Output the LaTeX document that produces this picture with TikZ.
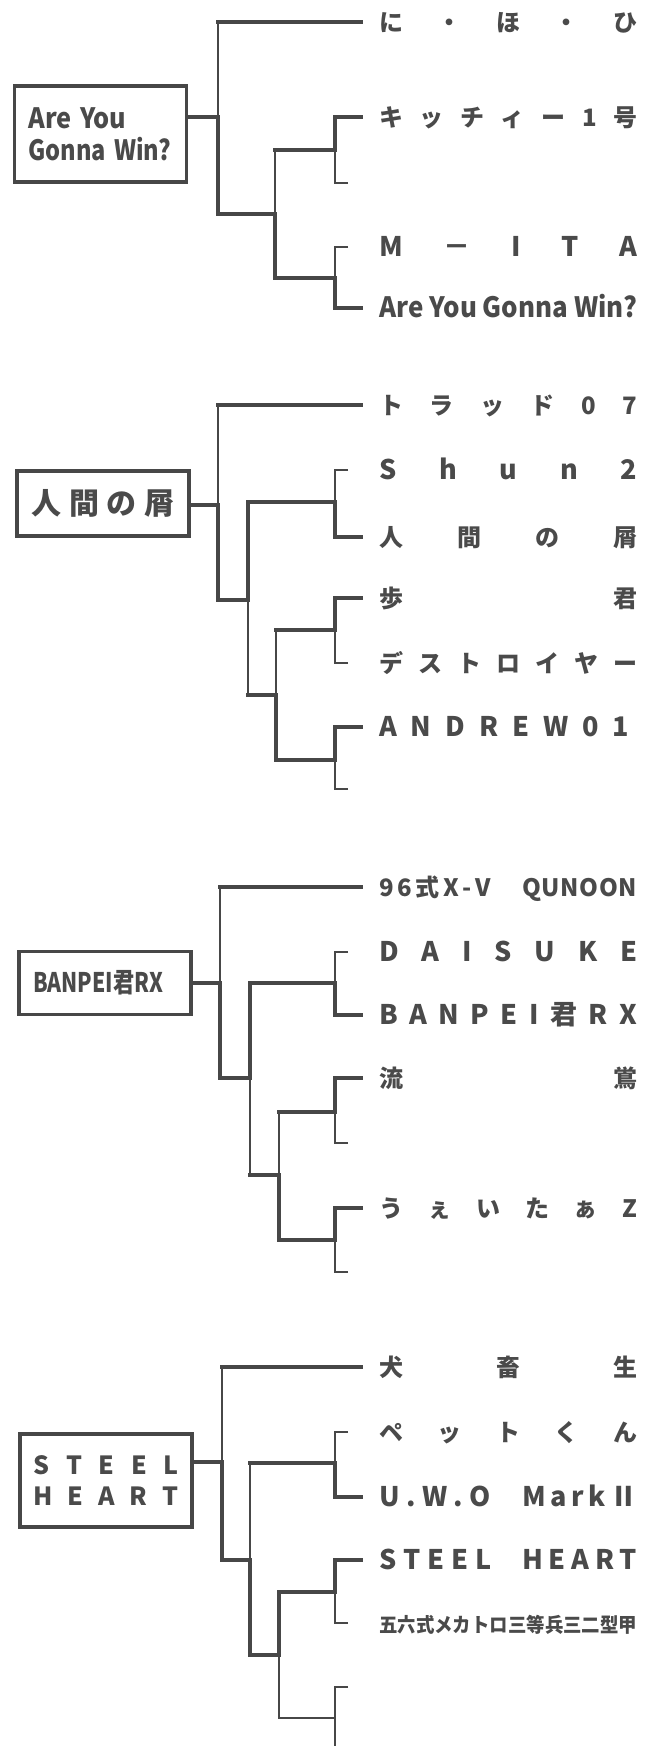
\documentclass[tikz,border=0pt]{standalone}
\usepackage{fontspec}
\setmainfont{Noto Sans CJK JP}
\usepackage{graphicx}
\usepackage{xcolor}
\definecolor{linegray}{HTML}{474747}
\definecolor{textgray}{HTML}{4a4a4a}
\newlength{\labw}
\setlength{\labw}{258pt}
\newcommand{\spread}[2][\labw]{\makebox[#1][s]{\spaceskip=0pt plus 1fil\xspaceskip=\spaceskip\relax #2}}
\newcommand{\spreadpair}[2]{\makebox[\labw]{\spread[112pt]{#1}\hfill\spread[115pt]{#2}}}
\newcommand{\squeeze}[2][\labw]{\resizebox{#1}{\height}{#2}}

\begin{document}
\begin{tikzpicture}[x=1pt, y=-1pt,
    win/.style={draw=linegray, line width=3.4pt, line cap=rect},
    lose/.style={draw=linegray, line width=1.2pt},
    seedbox/.style={draw=linegray, line width=3.4pt, text=textgray, minimum width=172pt, inner sep=0pt},
    entry/.style={anchor=west, inner sep=0pt, text height=18pt, text depth=0pt, text=textgray, font=\fontsize{24}{28}\selectfont\bfseries},
    latin/.style={entry, font=\fontsize{27}{28}\selectfont\bfseries}]
  \useasboundingbox (0,0) rectangle (657,1746);

  % Block 1 -- Are You Gonna Win?
  \node[seedbox, minimum height=96pt, text width=144pt, inner xsep=14pt, align=left, font=\fontsize{28}{32}\selectfont\bfseries] (box1) at (100.5,134) {\squeeze[98pt]{Are You}\\\squeeze[143pt]{Gonna Win?}};
  \node[entry] (nihohi) at (379,22) {\spread{に ・ ほ ・ ひ}};
  \node[entry] (kitty) at (379,117) {\spread{キ ッ チ ィ ー 1 号}};
  \node[latin] (mita) at (379,247) {\spread{M － I T A}};
  \node[entry] (aygw) at (379,308) {\squeeze{\fontsize{28}{28}\selectfont Are You Gonna Win?}};
  \coordinate (bye1) at (348,183);
  \coordinate (j1a) at (218,117);
  \coordinate (j1c) at (275,214);
  \coordinate (j1d1) at (335,150);
  \coordinate (j1d2) at (335,278);

  \draw[win] (box1.east |- j1a) -- (j1a);
  \draw[win, shorten <=18pt] (nihohi.west) -- (j1a |- nihohi);
  \draw[lose] (j1a |- nihohi) -- (j1a);
  \draw[win] (j1a) |- (j1c);
  \draw[lose] (j1c) -- (j1c |- j1d1);
  \draw[win] (j1c |- j1d1) -- (j1d1);
  \draw[win] (j1c) |- (j1d2);
  \draw[win, shorten <=18pt] (kitty.west) -| (j1d1);
  \draw[lose] (bye1) -| (j1d1);
  \draw[lose, shorten <=31pt] (mita.west) -| (j1d2);
  \draw[win, shorten <=18pt] (aygw.west) -| (j1d2);

  % Block 2 -- 人間の屑
  \node[seedbox, minimum height=65pt, font=\fontsize{30}{30}\selectfont\bfseries] (box2) at (103,503.5) {\spread[143pt]{人 間 の 屑}};
  \node[entry] (trad) at (379,405) {\spread{ト ラ ッ ド 0 7}};
  \node[latin] (shun) at (379,470) {\spread{S h u n 2}};
  \node[entry] (ningen) at (379,537) {\spread{人 間 の 屑}};
  \node[entry] (ayumu) at (379,598) {\spread{歩 君}};
  \node[entry] (destroyer) at (379,663) {\spread{デ ス ト ロ イ ヤ ー}};
  \node[latin] (andrew) at (379,727) {\spread[250pt]{A N D R E W 0 1}};
  \coordinate (bye2) at (348,789);
  \coordinate (j2a) at (218,505);
  \coordinate (j2b) at (248,600);
  \coordinate (j2d1) at (335,502);
  \coordinate (j2c) at (276,695);
  \coordinate (j2d2) at (335,630);
  \coordinate (j2d3) at (335,760);

  \draw[win] (box2.east |- j2a) -- (j2a);
  \draw[win, shorten <=18pt] (trad.west) -- (j2a |- trad);
  \draw[lose] (j2a |- trad) -- (j2a);
  \draw[win] (j2a) |- (j2b);
  \draw[win] (j2b) |- (j2d1);
  \draw[lose] (j2b) -- (j2b |- j2c);
  \draw[win] (j2b |- j2c) -- (j2c);
  \draw[lose, shorten <=31pt] (shun.west) -| (j2d1);
  \draw[win, shorten <=18pt] (ningen.west) -| (j2d1);
  \draw[lose] (j2c) -- (j2c |- j2d2);
  \draw[win] (j2c |- j2d2) -- (j2d2);
  \draw[win] (j2c) |- (j2d3);
  \draw[win, shorten <=18pt] (ayumu.west) -| (j2d2);
  \draw[lose, shorten <=31pt] (destroyer.west) -| (j2d2);
  \draw[win, shorten <=18pt] (andrew.west) -| (j2d3);
  \draw[lose] (bye2) -| (j2d3);

  % Block 3 -- BANPEI君RX
  \node[seedbox, minimum height=63pt, text width=144pt, inner xsep=14pt, align=left, font=\fontsize{27}{27}\selectfont\bfseries] (box3) at (105,983) {\squeeze[130pt]{BANPEI君RX}};
  \node[entry] (qunoon) at (379,887) {\spreadpair{9 6 式 X - V}{Q U N O O N}};
  \node[latin] (daisuke) at (379,952) {\spread{D A I S U K E}};
  \node[latin] (banpei) at (379,1015) {\spread{B A N P E I 君 R X}};
  \node[entry] (ryuou) at (379,1078) {\spread{流 鴬}};
  \node[entry] (weita) at (379,1208) {\spread{う ぇ い た ぁ Z}};
  \coordinate (bye3a) at (348,1143);
  \coordinate (bye3b) at (348,1272);
  \coordinate (j3a) at (220,983);
  \coordinate (j3b) at (250,1078);
  \coordinate (j3d1) at (335,983);
  \coordinate (j3c) at (279,1175);
  \coordinate (j3d2) at (335,1112);
  \coordinate (j3d3) at (335,1240);

  \draw[win] (box3.east |- j3a) -- (j3a);
  \draw[win, shorten <=18pt] (qunoon.west) -- (j3a |- qunoon);
  \draw[lose] (j3a |- qunoon) -- (j3a);
  \draw[win] (j3a) |- (j3b);
  \draw[win] (j3b) |- (j3d1);
  \draw[lose] (j3b) -- (j3b |- j3c);
  \draw[win] (j3b |- j3c) -- (j3c);
  \draw[lose, shorten <=31pt] (daisuke.west) -| (j3d1);
  \draw[win, shorten <=18pt] (banpei.west) -| (j3d1);
  \draw[lose] (j3c) -- (j3c |- j3d2);
  \draw[win] (j3c |- j3d2) -- (j3d2);
  \draw[win] (j3c) |- (j3d3);
  \draw[win, shorten <=18pt] (ryuou.west) -| (j3d2);
  \draw[lose] (bye3a) -| (j3d2);
  \draw[win, shorten <=18pt] (weita.west) -| (j3d3);
  \draw[lose] (bye3b) -| (j3d3);

  % Block 4 -- STEEL HEART
  \node[seedbox, minimum height=93pt, text width=145pt, align=center, font=\fontsize{25}{31}\selectfont\bfseries] (box4) at (106,1480.5) {\spread[145pt]{S T E E L}\\\spread[145pt]{H E A R T}};
  \node[entry] (inu) at (379,1367) {\spread{犬 畜 生}};
  \node[entry] (pet) at (379,1432) {\spread{ペ ッ ト く ん}};
  \node[latin] (uwo) at (379,1497) {\spreadpair{U . W . O}{M a r k Ⅱ}};
  \node[latin] (steel) at (379,1560) {\spreadpair{S T E E L}{H E A R T}};
  \node[entry] (goroku) at (379,1623) {\squeeze{\fontsize{20}{20}\selectfont 五六式メカトロ三等兵三二型甲}};
  \coordinate (bye4a) at (348,1687);
  \coordinate (bye4b) at (348,1750);
  \coordinate (j4a) at (222,1462);
  \coordinate (j4b) at (250,1560);
  \coordinate (j4d1) at (335,1463);
  \coordinate (j4c) at (279,1655);
  \coordinate (j4d2) at (335,1592);
  \coordinate (j4d3) at (335,1718);

  \draw[win] (box4.east |- j4a) -- (j4a);
  \draw[win, shorten <=18pt] (inu.west) -- (j4a |- inu);
  \draw[lose] (j4a |- inu) -- (j4a);
  \draw[win] (j4a) |- (j4b);
  \draw[lose] (j4b) -- (j4b |- j4d1);
  \draw[win] (j4b |- j4d1) -- (j4d1);
  \draw[win] (j4b) |- (j4c);
  \draw[lose, shorten <=31pt] (pet.west) -| (j4d1);
  \draw[win, shorten <=18pt] (uwo.west) -| (j4d1);
  \draw[win] (j4c) |- (j4d2);
  \draw[lose] (j4c) |- (j4d3);
  \draw[win, shorten <=18pt] (steel.west) -| (j4d2);
  \draw[lose, shorten <=31pt] (goroku.west) -| (j4d2);
  \draw[lose] (bye4a) -| (j4d3);
  \draw[lose] (bye4b) -| (j4d3);
\end{tikzpicture}
\end{document}
